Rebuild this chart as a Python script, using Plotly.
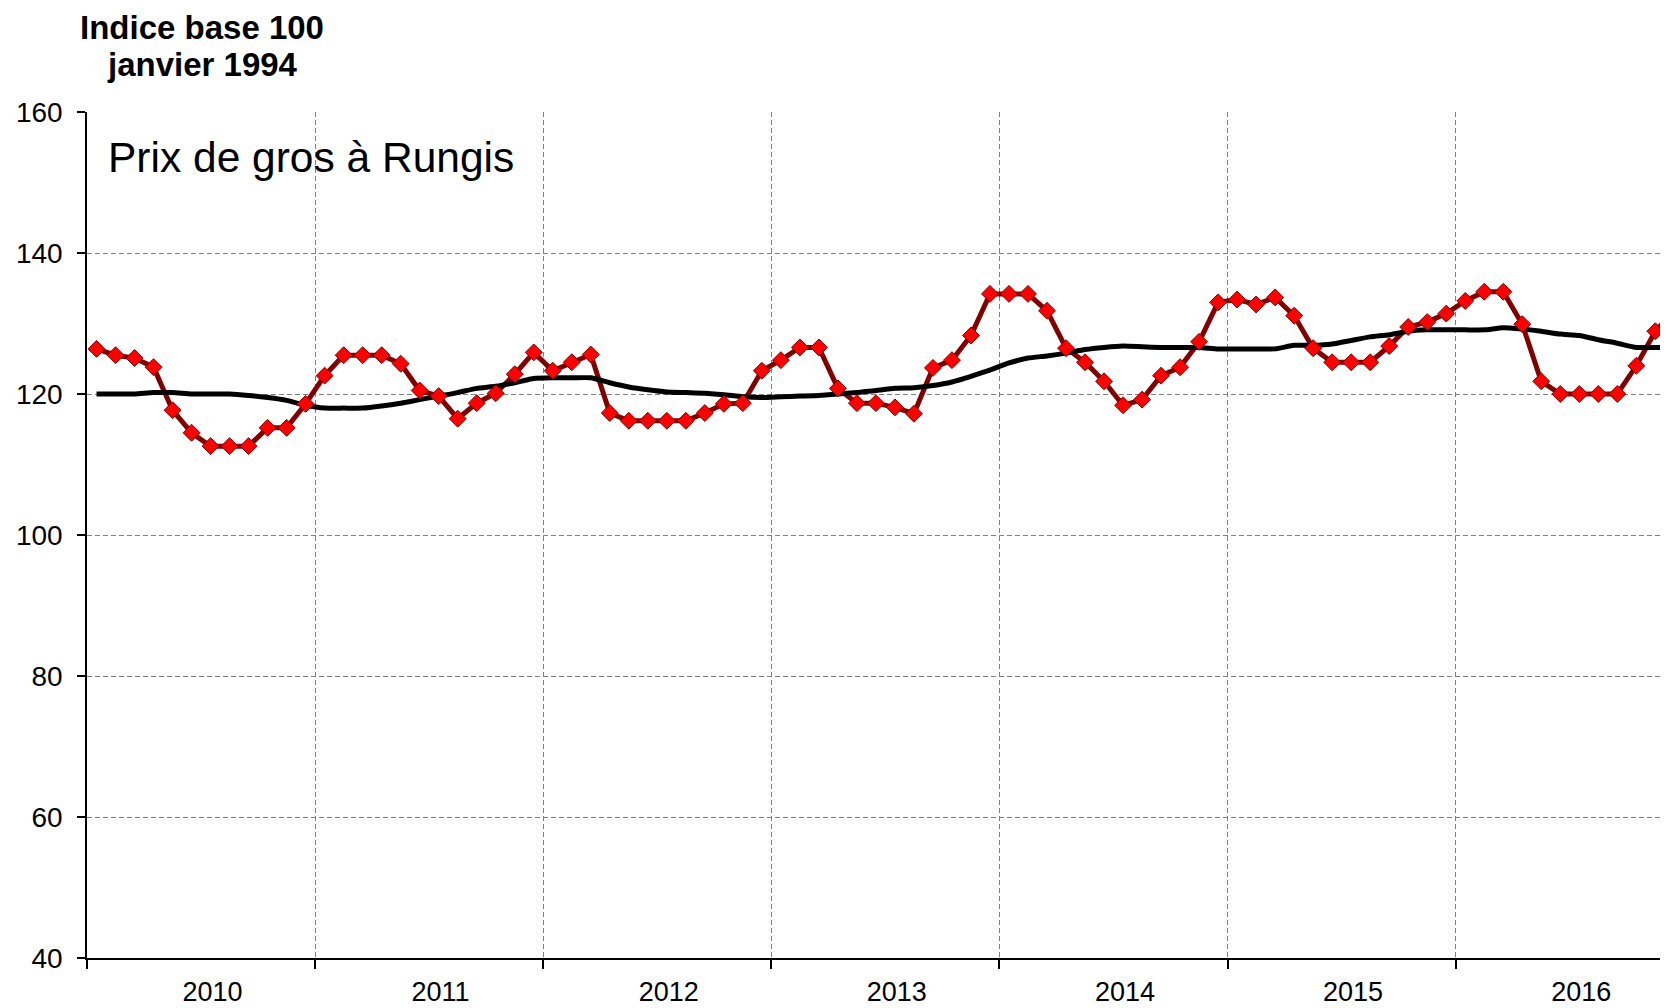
import plotly.graph_objects as go

# Indices mensuels, janvier 2010 -> décembre 2016
annees = ["2010", "2011", "2012", "2013", "2014", "2015", "2016"]

prix_2010 = [126.4, 125.5, 125.1, 123.8, 117.7, 114.5, 112.6, 112.6, 112.6, 115.2, 115.2, 118.6]
prix_2011 = [122.6, 125.5, 125.5, 125.5, 124.3, 120.5, 119.7, 116.5, 118.7, 120.1, 122.8, 125.9]
prix_2012 = [123.3, 124.5, 125.6, 117.3, 116.2, 116.2, 116.2, 116.2, 117.3, 118.6, 118.7, 123.3]
prix_2013 = [124.8, 126.6, 126.6, 120.8, 118.7, 118.7, 118.1, 117.2, 123.7, 124.8, 128.3, 134.2]
prix_2014 = [134.2, 134.2, 131.8, 126.5, 124.5, 121.8, 118.4, 119.2, 122.6, 123.8, 127.4, 133.0]
prix_2015 = [133.4, 132.7, 133.7, 131.1, 126.5, 124.5, 124.5, 124.5, 126.8, 129.5, 130.2, 131.4]
prix_2016 = [133.2, 134.5, 134.5, 129.9, 121.8, 120.0, 120.0, 120.0, 120.0, 124.0, 128.9, 131.8]

tend_2010 = [120.0, 120.0, 120.0, 120.2, 120.2, 120.0, 120.0, 120.0, 119.8, 119.5, 119.1, 118.4]
tend_2011 = [118.0, 118.0, 118.0, 118.3, 118.7, 119.2, 119.7, 120.2, 120.8, 121.1, 121.6, 122.2]
tend_2012 = [122.3, 122.3, 122.3, 121.6, 121.0, 120.6, 120.3, 120.2, 120.1, 119.9, 119.6, 119.5]
tend_2013 = [119.6, 119.7, 119.8, 120.0, 120.2, 120.5, 120.8, 120.9, 121.2, 121.7, 122.5, 123.4]
tend_2014 = [124.4, 125.1, 125.4, 125.8, 126.3, 126.6, 126.8, 126.7, 126.6, 126.6, 126.6, 126.4]
tend_2015 = [126.4, 126.4, 126.4, 126.9, 126.9, 127.1, 127.6, 128.1, 128.4, 128.9, 129.1, 129.1]
tend_2016 = [129.1, 129.1, 129.4, 129.2, 128.9, 128.5, 128.3, 127.7, 127.2, 126.6, 126.6, 126.6]

prix = prix_2010 + prix_2011 + prix_2012 + prix_2013 + prix_2014 + prix_2015 + prix_2016
tendance = tend_2010 + tend_2011 + tend_2012 + tend_2013 + tend_2014 + tend_2015 + tend_2016
mois = list(range(len(prix)))

FONT = "Liberation Sans, Arial, sans-serif"
# la page html ajoute 8px de marge (body) en haut et à gauche
OFF = 8
L, T, B = 87 - OFF, 112 - OFF, 50
W, H = 1668 - OFF, 1008 - OFF
pw, ph = W - L, H - T - B

fig = go.Figure()

# ligne rouge d'abord, puis tendance noire, puis les losanges
fig.add_trace(go.Scatter(x=mois, y=prix, mode="lines",
                         line=dict(color="#800000", width=5), hoverinfo="skip"))
fig.add_trace(go.Scatter(x=mois, y=tendance, mode="lines",
                         line=dict(color="black", width=5, shape="spline", smoothing=0.5)))
fig.add_trace(go.Scatter(x=mois, y=prix, mode="markers",
                         marker=dict(symbol="diamond", size=13, color="#FF0000",
                                     line=dict(color="#800000", width=1))))

fig.update_layout(
    width=W, height=H,
    margin=dict(l=L, r=0, t=T, b=B),
    plot_bgcolor="white", paper_bgcolor="white",
    showlegend=False,
    font=dict(family=FONT, size=28, color="black"),
)

fig.update_xaxes(
    range=[-0.5, -0.5 + pw / 19.01],
    tickvals=[12 * i + 6.1 for i in range(len(annees))],
    ticktext=annees,
    ticks="", showgrid=False, zeroline=False,
    showline=True, linecolor="black", linewidth=2,
    ticklabelstandoff=9, tickfont=dict(size=27),
    minor=dict(tickvals=[12 * i - 0.5 for i in range(len(annees))],
               ticks="outside", ticklen=9, tickcolor="black", tickwidth=1.5,
               showgrid=True, gridcolor="#808080", gridwidth=1, griddash="5px,3px"),
    automargin=False,
)

fig.update_yaxes(
    range=[40, 160], tickvals=[40, 60, 80, 100, 120, 140, 160],
    ticks="outside", ticklen=8, tickcolor="black", tickwidth=1.5,
    showline=True, linecolor="black", linewidth=1.5,
    showgrid=True, gridcolor="#808080", gridwidth=1, griddash="5px,3px",
    zeroline=False, ticklabelstandoff=9, automargin=False,
)

def px_x(p):
    return (p - OFF - L) / pw

def px_y(p):
    return (H + OFF - B - p) / ph

fig.add_annotation(text="<b>Indice base 100</b>", xref="paper", yref="paper",
                   x=px_x(202), y=px_y(27), xanchor="center", yanchor="middle",
                   showarrow=False, borderpad=0, font=dict(size=33))
fig.add_annotation(text="<b>janvier 1994</b>", xref="paper", yref="paper",
                   x=px_x(202), y=px_y(65), xanchor="center", yanchor="middle",
                   showarrow=False, borderpad=0, font=dict(size=33))
fig.add_annotation(text="Prix de gros à Rungis", xref="paper", yref="paper",
                   x=px_x(106), y=px_y(158), xanchor="left", yanchor="middle",
                   showarrow=False, font=dict(size=42.5))

fig.write_html("out.html")
